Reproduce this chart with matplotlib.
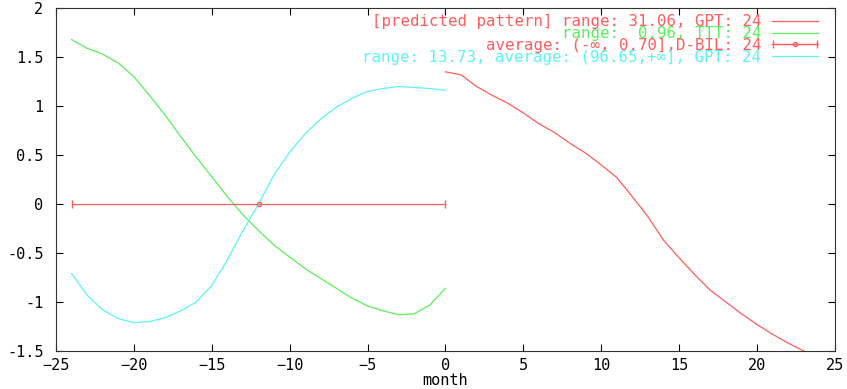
import matplotlib.pyplot as plt
from matplotlib.container import ErrorbarContainer
from matplotlib.legend_handler import HandlerErrorbar

# months for history and prediction
months_hist = list(range(-24, 1))
months_pred = list(range(0, 24))

# history curves
ttt = [1.68, 1.59, 1.53, 1.44, 1.30, 1.11, 0.91, 0.69, 0.48, 0.28, 0.075, -0.11,
       -0.27, -0.42, -0.54, -0.66, -0.76, -0.86, -0.96, -1.04, -1.09, -1.13, -1.12,
       -1.03, -0.86]
gpt = [-0.71, -0.93, -1.08, -1.17, -1.21, -1.20, -1.16, -1.09, -1.00, -0.83, -0.57,
       -0.27, 0.0, 0.30, 0.53, 0.72, 0.87, 0.99, 1.08, 1.15, 1.18, 1.20, 1.19, 1.18,
       1.16]

# predicted pattern
pred = [1.35, 1.32, 1.20, 1.11, 1.03, 0.93, 0.82, 0.73, 0.62, 0.52, 0.40, 0.27,
        0.075, -0.13, -0.37, -0.55, -0.72, -0.88, -1.00, -1.12, -1.23, -1.33, -1.42,
        -1.50]

# D-BIL average interval
dbil_x = [-12]
dbil_y = [0]
dbil_xerr = [12]

labels = [
    "[predicted pattern] range: 31.06, GPT: 24",
    "range:  0.96, TTT: 24",
    "average: (-\u221e, 0.70],D-BIL: 24",
    "range: 13.73, average: (96.65,+\u221e], GPT: 24",
]

red = "#ff5c5c"
green = "#5cee5c"
cyan = "#5cf4f4"

plt.rcParams['font.family'] = ['DejaVu Sans Mono']
plt.rcParams['font.size'] = 11

fig = plt.figure(figsize=(8.47, 3.89), dpi=100)
ax = fig.add_axes([0.0661, 0.0977, 0.9197, 0.8813])

l_pred, = ax.plot(months_pred, pred, color=red, lw=0.9)
l_ttt, = ax.plot(months_hist, ttt, color=green, lw=0.9)
eb = ax.errorbar(dbil_x, dbil_y, xerr=dbil_xerr, color=red, lw=0.9, capsize=3,
                 marker='o', ms=3, mfc='none')
l_gpt, = ax.plot(months_hist, gpt, color=cyan, lw=0.9)

ax.set_xlim(-25, 25)
ax.set_ylim(-1.5, 2)
ax.set_xticks(range(-25, 26, 5))
ax.set_yticks([-1.5, -1, -0.5, 0, 0.5, 1, 1.5, 2])
ax.set_yticklabels(["-1.5", "-1", "-0.5", "0", "0.5", "1", "1.5", "2"])
ax.tick_params(direction='in', length=5, top=True, right=True, labelsize=11)
ax.tick_params(axis='y', pad=9)
ax.tick_params(axis='x', pad=5)
for s in ax.spines.values():
    s.set_color('#333333')
ax.set_xlabel("month", labelpad=0)

leg = ax.legend([l_pred, l_ttt, eb, l_gpt], labels,
                loc='upper right', bbox_to_anchor=(0.9865, 1.0),
                frameon=False, markerfirst=False, labelcolor='linecolor',
                handlelength=2.93, handletextpad=0.7, labelspacing=-0.21,
                borderaxespad=0, fontsize=11.3,
                handler_map={ErrorbarContainer: HandlerErrorbar(xerr_size=1.42)})

fig.savefig("out.png")
